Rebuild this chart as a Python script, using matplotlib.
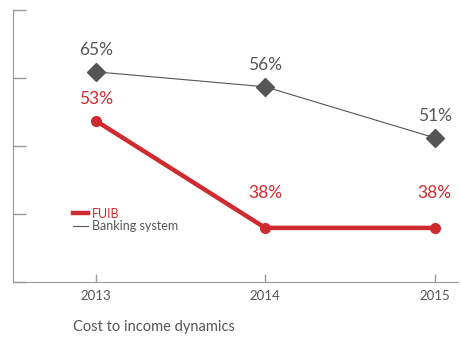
import matplotlib.pyplot as plt

years = [2013, 2014, 2015]
fuib_labels = [53, 38, 38]
bank_labels = [65, 56, 51]
# the source chart is not drawn to scale, so the heights are read off the picture
fuib_pos = [47.4, 15.9, 15.9]
bank_pos = [61.8, 57.4, 42.4]

red = '#cf2a2e'
dark = '#555555'
plt.rcParams['font.family'] = ['Lato', 'DejaVu Sans']

fig = plt.figure(figsize=(4.61, 3.43), dpi=100)
ax = fig.add_axes([0.028, 0.178, 0.966, 0.793])

ax.plot(years, bank_pos, color=dark, lw=0.8, marker='D', ms=9.5, label='Banking system', zorder=3)
ax.plot(years, fuib_pos, color=red, lw=3.2, marker='o', ms=7, label='FUIB', zorder=4)

for x, y, v in zip(years, bank_pos, bank_labels):
    ax.annotate(f'{v}%', (x, y), xytext=(0, 16), textcoords='offset points',
                ha='center', va='center', fontsize=12.5, color=dark)
for i, (x, y, v) in enumerate(zip(years, fuib_pos, fuib_labels)):
    off = 16 if i == 0 else 25
    ax.annotate(f'{v}%', (x, y), xytext=(0, off), textcoords='offset points',
                ha='center', va='center', fontsize=12.5, color=red)

ax.set_xlim(2012.51, 2015.14)
ax.set_ylim(0, 80)
ax.set_yticks([0, 20, 40, 60, 80])
ax.set_yticklabels([])
ax.set_xticks(years)
ax.set_xticklabels([str(y) for y in years], fontsize=9.5, color=dark)
ax.tick_params(axis='y', direction='in', length=9, color='#999999', width=1)
ax.tick_params(axis='x', direction='in', length=6, color='#999999', width=1, pad=6)
for s in ['top', 'right']:
    ax.spines[s].set_visible(False)
for s in ['left', 'bottom']:
    ax.spines[s].set_color('#999999')

h, l = ax.get_legend_handles_labels()
leg = ax.legend(h[::-1], l[::-1], loc='upper left', bbox_to_anchor=(0.11, 0.315), frameon=False,
                fontsize=9, handlelength=1.2, handletextpad=0.3, labelspacing=0.05, markerscale=0)
for t, c in zip(leg.get_texts(), [red, dark]):
    t.set_color(c)
for line in leg.get_lines():
    line.set_marker('')

fig.text(0.158, 0.035, 'Cost to income dynamics', fontsize=10.5, color=dark)
fig.savefig('out.png', dpi=100)
